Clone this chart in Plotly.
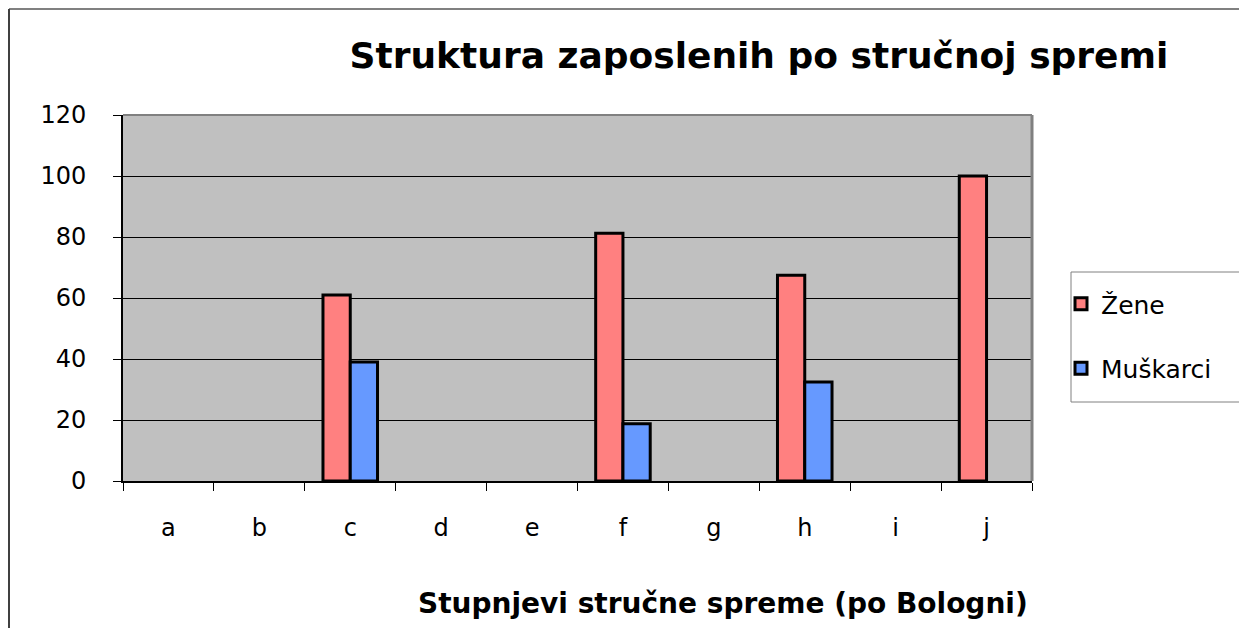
import plotly.graph_objects as go

categories = ["a", "b", "c", "d", "e", "f", "g", "h", "i", "j"]
zene = [None, None, 61, None, None, 81.25, None, 67.5, None, 100]
muskarci = [None, None, 39, None, None, 18.75, None, 32.5, None, None]
y_ticks = [0, 20, 40, 60, 80, 100, 120]

W, H = 1247, 628
OFF = 8  # page body margin
L, R, T, B = 123 - OFF, 1032 - OFF, 115 - OFF, 481 - OFF
pw, ph = R - L, B - T


def px(x):
    return (x - OFF - L) / pw


def py(y):
    return (B - (y - OFF)) / ph


FONT = "DejaVu Sans, Arial, sans-serif"

fig = go.Figure()
fig.add_trace(go.Bar(x=categories, y=zene, name="Žene", legendgroup="z",
                     marker=dict(color="#FF8080", line=dict(color="black", width=3))))
fig.add_trace(go.Bar(x=categories, y=muskarci, name="Muškarci", legendgroup="m",
                     marker=dict(color="#6699FF", line=dict(color="black", width=3))))

fig.update_layout(
    width=W, height=H,
    margin=dict(l=L, r=W - R, t=T, b=H - B),
    paper_bgcolor="white",
    plot_bgcolor="#C0C0C0",
    barmode="group",
    bargap=0.4,
    bargroupgap=0,
    font=dict(family=FONT, color="black", size=24),
    title=dict(text="<b>Struktura zaposlenih po stručnoj spremi</b>",
               x=(759 - OFF) / W, xref="container", xanchor="center",
               y=1 - (55 - OFF) / H, yref="container", yanchor="middle",
               font=dict(size=36, family=FONT, color="black")),
    showlegend=True,
    legend=dict(x=px(1061), y=py(281), xanchor="left", yanchor="top",
                borderwidth=0, bgcolor="rgba(0,0,0,0)",
                font=dict(size=25, family=FONT), itemwidth=30,
                tracegroupgap=29, traceorder="grouped"),
    xaxis=dict(showgrid=False, showline=True, linecolor="black", linewidth=2,
               ticks="outside", tickson="boundaries", ticklen=8, tickcolor="black",
               ticklabelstandoff=24, tickfont=dict(size=24), mirror=False),
    yaxis=dict(range=[0, 120], tickvals=y_ticks, showgrid=True, gridcolor="black",
               gridwidth=1, showline=True, linecolor="black", linewidth=2,
               ticks="outside", ticklen=8, tickcolor="black", ticklabelstandoff=22,
               tickfont=dict(size=24), zeroline=False),
    annotations=[dict(text="<b>Stupnjevi stručne spreme (po Bologni)</b>",
                      xref="paper", yref="paper", x=px(723), y=py(603),
                      xanchor="center", yanchor="middle", showarrow=False,
                      font=dict(size=28, family=FONT))],
    shapes=[
        dict(type="line", xref="paper", yref="paper", x0=0, x1=1, y0=1, y1=1,
             line=dict(color="#808080", width=2)),
        dict(type="line", xref="paper", yref="paper", x0=1, x1=1, y0=0, y1=1,
             line=dict(color="#808080", width=3)),
        dict(type="line", xref="paper", yref="paper", x0=px(9), x1=px(1243), y0=py(9), y1=py(9),
             line=dict(color="#808080", width=2)),
        dict(type="line", xref="paper", yref="paper", x0=px(9), x1=px(9), y0=py(9), y1=py(660),
             line=dict(color="#404040", width=2)),
        dict(type="rect", xref="paper", yref="paper", x0=px(1071), x1=px(1262),
             y0=py(402), y1=py(272), line=dict(color="#808080", width=1),
             fillcolor="white", layer="below"),
    ],
)

fig.write_html("out.html")
